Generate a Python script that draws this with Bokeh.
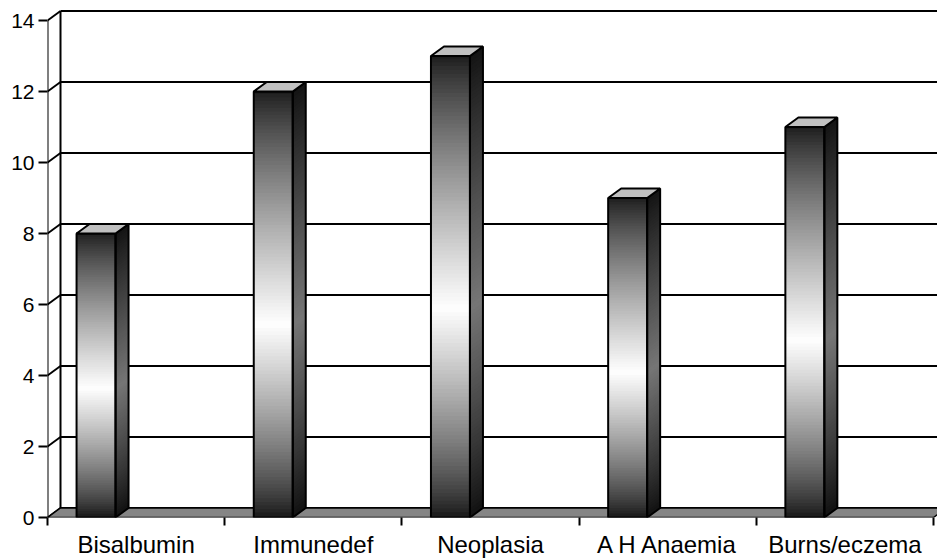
import numpy as np
from bokeh.plotting import figure
from bokeh.models import FixedTicker, Range1d
from bokeh.embed import file_html
from bokeh.resources import INLINE

# ---- data ----
categories = ["Bisalbumin", "Immunedef", "Neoplasia", "A H Anaemia", "Burns/eczema"]
values = [8, 12, 13, 9, 11]
y_ticks = [0, 2, 4, 6, 8, 10, 12, 14]

# ---- layout / style constants ----
BAR_L, BAR_R = 0.164, 0.384      # front face inside each category slot
DX, DY = 0.0734, 0.268           # 3-D depth offset (x in categories, y in value units)
NSTRIP = 120
PEAK = 0.45                      # position of the white band (fraction from bottom)
FONT = "Liberation Sans"

n = len(categories)
p = figure(width=937, height=560, output_backend="svg", toolbar_location=None,
           x_range=Range1d(0, 890 / 177.2), y_range=Range1d(0, 508 / 35.5),
           min_border_left=47, min_border_right=0, min_border_top=9, min_border_bottom=43)
p.outline_line_color = None
p.xgrid.visible = False
p.ygrid.visible = False
p.background_fill_color = "white"

xend = p.x_range.end + 0.2

# back wall grid lines, left wall diagonals
gx0, gy0, gx1, gy1 = [], [], [], []
for t in y_ticks:
    gx0 += [0, DX]; gy0 += [t, t + DY]
    gx1 += [DX, xend]; gy1 += [t + DY, t + DY]
p.segment(gx0, gy0, gx1, gy1, line_color="black", line_width=2)
p.segment([DX], [DY], [DX], [y_ticks[-1] + DY], line_color="black", line_width=2)

# floor
p.patch([0, n, n + DX, DX], [0, 0, DY, DY], fill_color="#858585",
        line_color="black", line_width=1.5)

# bars with gradient strips (each strip reaches to the bar top; later strips cover earlier ones)
fl, fr, fb, ft, fc = [], [], [], [], []
sxs, sys_, sc = [], [], []
for i, v in enumerate(values):
    x0, x1 = i + BAR_L, i + BAR_R
    edges = np.linspace(0, v, NSTRIP + 1)
    for k in range(NSTRIP):
        tt = (k + 0.5) / NSTRIP
        w = tt / PEAK if tt < PEAK else (1 - tt) / (1 - PEAK)
        g = int(24 + 231 * w ** 0.8)
        gs = int(18 + 100 * w ** 0.9)
        cf = "#%02x%02x%02x" % (g, g, g)
        cs = "#%02x%02x%02x" % (gs, gs, gs)
        top = min(edges[k + 1] + 0.04, v)
        fl.append(x0); fr.append(x1); fb.append(edges[k]); ft.append(top); fc.append(cf)
        sxs.append([x1, x1 + DX, x1 + DX, x1])
        sys_.append([edges[k], edges[k] + DY, top + DY, top])
        sc.append(cs)
# draw top-down so that each lower strip overlaps the seam of the one above
order = list(range(len(fl)))[::-1]
p.quad(left=[fl[j] for j in order], right=[fr[j] for j in order],
       bottom=[fb[j] for j in order], top=[ft[j] for j in order],
       fill_color=[fc[j] for j in order], line_color=None)
p.patches([sxs[j] for j in order], [sys_[j] for j in order],
          fill_color=[sc[j] for j in order], line_color=None)

bx0 = [i + BAR_L for i in range(n)]
bx1 = [i + BAR_R for i in range(n)]
p.quad(left=bx0, right=bx1, bottom=[0] * n, top=values, fill_color=None,
       line_color="black", line_width=2)
p.patches([[a, a + DX, a + DX, a] for a in bx1],
          [[0, DY, v + DY, v] for v in values],
          fill_color=None, line_color="black", line_width=2)
p.patches([[a, b, b + DX, a + DX] for a, b in zip(bx0, bx1)],
          [[v, v, v + DY, v + DY] for v in values],
          fill_color="#c0c0c0", line_color="black", line_width=2)

# front axis line
p.segment([0], [0], [0], [y_ticks[-1]], line_color="black", line_width=2)

# axes
ya = p.yaxis[0]
ya.ticker = FixedTicker(ticks=y_ticks)
ya.axis_line_color = None
ya.major_tick_out = 9
ya.major_tick_in = 0
ya.major_tick_line_width = 2
ya.minor_tick_line_color = None
ya.major_label_standoff = 4
ya.major_label_text_font = FONT
ya.major_label_text_font_size = "21px"
ya.major_label_text_color = "black"

xa = p.xaxis[0]
centers = [i + 0.5 for i in range(n)]
xa.ticker = FixedTicker(ticks=centers, minor_ticks=list(range(n + 1)))
xa.major_label_overrides = {c: lab for c, lab in zip(centers, categories)}
xa.axis_line_color = None
xa.major_tick_line_color = None
xa.major_tick_out = 8
xa.major_tick_in = 0
xa.minor_tick_out = 8
xa.minor_tick_in = 0
xa.minor_tick_line_width = 2
xa.minor_tick_line_color = "black"
xa.major_label_standoff = 5
xa.major_label_text_font = FONT
xa.major_label_text_font_size = "24px"
xa.major_label_text_color = "black"

open("out.html", "w").write(file_html(p, INLINE))
